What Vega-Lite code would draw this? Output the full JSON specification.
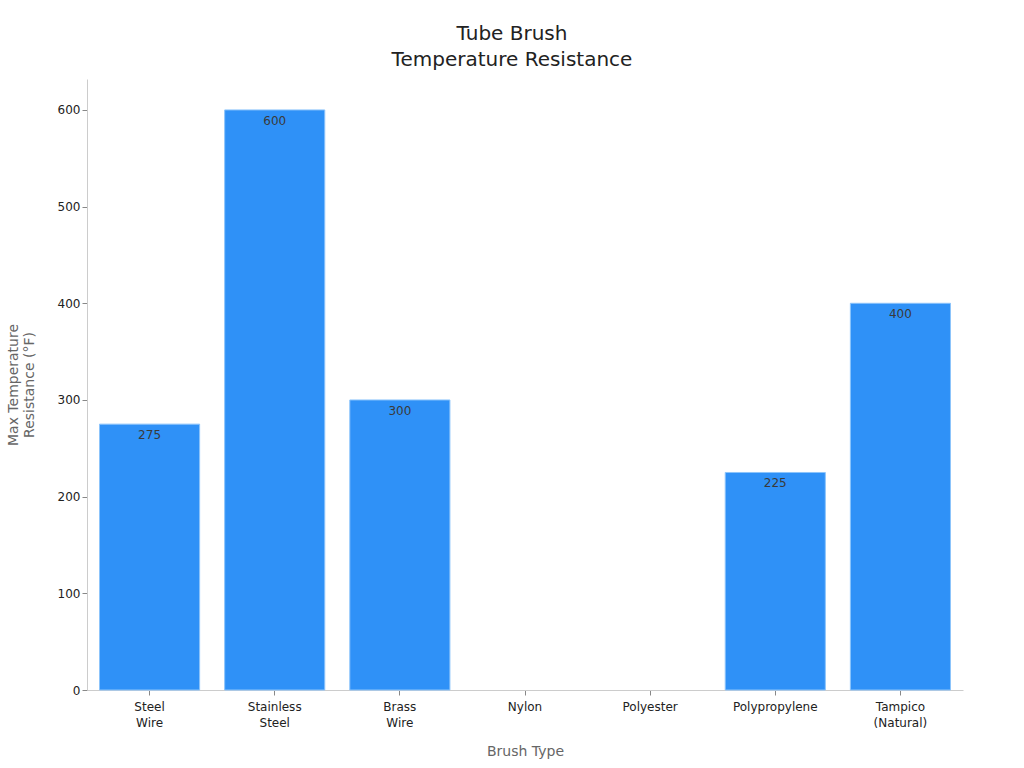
{
  "$schema": "https://vega.github.io/schema/vega-lite/v6.json",
  "width": 876,
  "height": 611,
  "padding": {"left": 6, "top": 24, "right": 61, "bottom": 8},
  "background": "white",
  "config": {
    "view": {"stroke": null},
    "font": "DejaVu Sans",
    "axis": {"grid": false, "domainColor": "#cccccc", "tickColor": "#888888", "labelColor": "#222222", "titleColor": "#666666", "titleFontWeight": "normal", "labelFontSize": 12, "titleFontSize": 14}
  },
  "title": {
    "text": ["Tube Brush", "Temperature Resistance"],
    "fontSize": 20,
    "fontWeight": "normal",
    "color": "#222222",
    "lineHeight": 26,
    "dx": -13,
    "offset": 9
  },
  "data": {
    "values": [
      {"brush": "Steel Wire", "temp": 275},
      {"brush": "Stainless Steel", "temp": 600},
      {"brush": "Brass Wire", "temp": 300},
      {"brush": "Nylon", "temp": null},
      {"brush": "Polyester", "temp": null},
      {"brush": "Polypropylene", "temp": 225},
      {"brush": "Tampico (Natural)", "temp": 400}
    ]
  },
  "encoding": {
    "x": {
      "field": "brush",
      "type": "nominal",
      "sort": null,
      "title": "Brush Type",
      "scale": {
        "domain": ["Steel Wire", "Stainless Steel", "Brass Wire", "Nylon", "Polyester", "Polypropylene", "Tampico (Natural)"],
        "paddingInner": 0.2,
        "paddingOuter": 0.1
      },
      "axis": {"labelAngle": 0, "labelExpr": "split(datum.label, ' ')", "labelLineHeight": 16, "labelPadding": 6, "titlePadding": 16, "tickSize": 5}
    },
    "y": {
      "field": "temp",
      "type": "quantitative",
      "title": ["Max Temperature", "Resistance (°F)"],
      "scale": {"domain": [0, 632], "nice": false},
      "axis": {"values": [0, 100, 200, 300, 400, 500, 600], "titlePadding": 21, "tickSize": 5}
    }
  },
  "layer": [
    {
      "mark": {"type": "bar", "color": "#2f91f7", "stroke": "#8cc4fb", "strokeWidth": 1}
    },
    {
      "mark": {"type": "text", "baseline": "top", "dy": 6, "fontSize": 12, "color": "#3a3a3a"},
      "encoding": {"text": {"field": "temp", "type": "quantitative"}}
    }
  ]
}
